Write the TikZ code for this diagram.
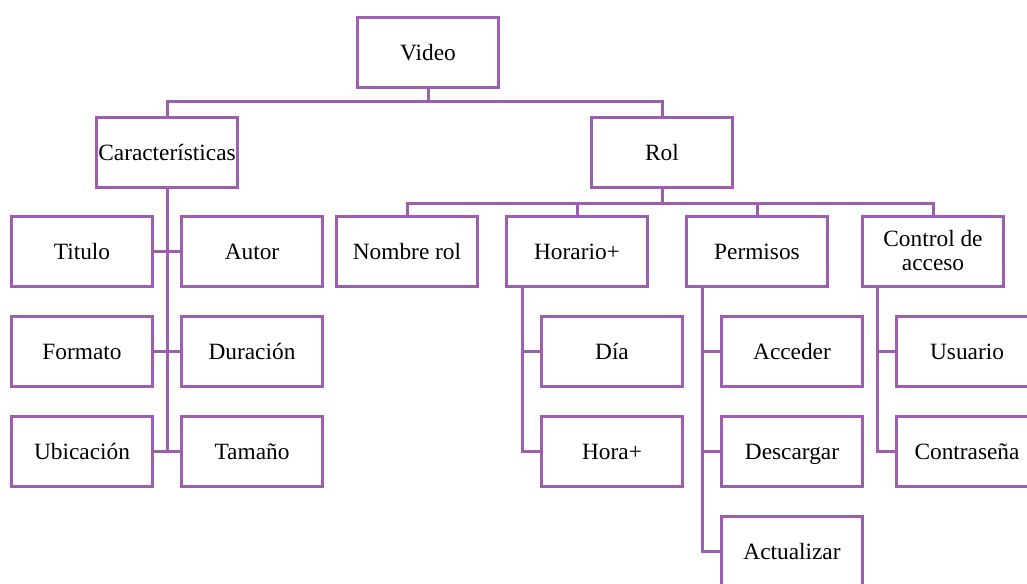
\documentclass[tikz,border=0pt]{standalone}
\usepackage{fontspec}
\setmainfont{Liberation Serif}
\definecolor{orgline}{RGB}{158,94,176}
\begin{document}
\begin{tikzpicture}[x=0.75pt,y=-0.75pt,
  boxbase/.style={draw=orgline, line width=2.25pt, fill=white, minimum width=105.75pt,
    minimum height=52.5pt, inner sep=0pt, align=center,
    font=\fontsize{17.5}{18}\selectfont},
  box/.style={boxbase, text height=14pt, text depth=2pt},
  link/.style={draw=orgline, line width=2.25pt}]
\useasboundingbox (0,0) rectangle (1027,583);
\clip (0,0) rectangle (1027,583);

% branch points of the tree
\coordinate (j1) at (428,101);
\coordinate (j2) at (662,203);
\coordinate (c0) at (167,187);
\coordinate (h0) at (522,286);
\coordinate (p0) at (702,286);
\coordinate (a0) at (877,286);

% top level
\node[box] (video) at (428,52) {Video};
\node[box] (car) at (167,152) {Características};
\node[box] (rol) at (662,152) {Rol};

% characteristics
\node[box] (tit) at (82,251) {Titulo};
\node[box] (aut) at (252,251) {Autor};
\node[box] (for) at (82,351) {Formato};
\node[box] (dur) at (252,351) {Duración};
\node[box] (ubi) at (82,451) {Ubicación};
\node[box] (tam) at (252,451) {Tamaño};

% role
\node[box] (nom) at (407,251) {Nombre rol};
\node[box] (hor) at (577,251) {Horario+};
\node[box] (per) at (757,251) {Permisos};
\node[boxbase] (ctl) at (933,251) {Control de\\acceso};

\node[box] (dia) at (612,351) {Día};
\node[box] (hora) at (612,451) {Hora+};
\node[box] (acc) at (792,351) {Acceder};
\node[box] (des) at (792,451) {Descargar};
\node[box] (act) at (792,551) {Actualizar};
\node[box] (usu) at (967,351) {Usuario};
\node[box] (con) at (967,451) {Contraseña};

% tree links
\draw[link] (video.south) -- (j1);
\draw[link] (car.north) |- (j1) -| (rol.north);
\draw[link] (rol.south) -- (j2);
\draw[link] (nom.north) |- (j2) -| (ctl.north);
\draw[link] (hor.north) -- (hor.north |- j2);
\draw[link] (per.north) -- (per.north |- j2);

\draw[link] (car.south) -- (c0 |- ubi.east);
\draw[link] (tit.east) -- (aut.west);
\draw[link] (for.east) -- (dur.west);
\draw[link] (ubi.east) -- (tam.west);

\draw[link] (h0) |- (hora.west);
\draw[link] (h0 |- dia.west) -- (dia.west);

\draw[link] (p0) |- (act.west);
\draw[link] (p0 |- acc.west) -- (acc.west);
\draw[link] (p0 |- des.west) -- (des.west);

\draw[link] (a0) |- (con.west);
\draw[link] (a0 |- usu.west) -- (usu.west);
\end{tikzpicture}
\end{document}
